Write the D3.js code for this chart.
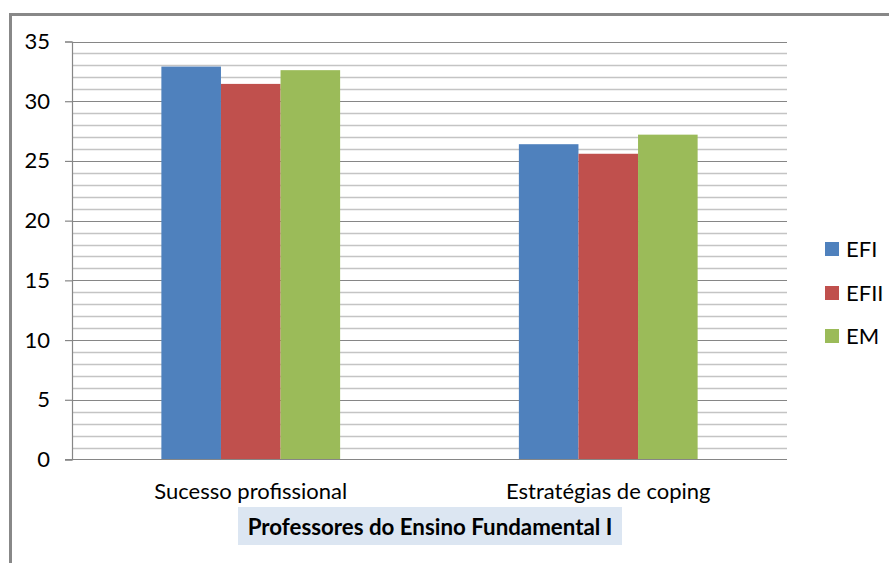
<!DOCTYPE html>
<html><head><meta charset="utf-8">
<script src="https://cdn.jsdelivr.net/npm/d3@7"></script>
<style>
html,body{margin:0;padding:0;background:#fff;}
svg{display:block;font-family:Lato,"Open Sans",sans-serif;}
</style></head>
<body>
<svg id="chart" width="889" height="563"></svg>
<script>
const categories = ["Sucesso profissional", "Estratégias de coping"];
const seriesNames = ["EFI", "EFII", "EM"];
const EFI = [32.9, 26.4];
const EFII = [31.45, 25.6];
const EM = [32.6, 27.2];
const seriesValues = [EFI, EFII, EM];
const colors = ["#4f81bd", "#c0504d", "#9bbb59"];
const yTicks = [0, 5, 10, 15, 20, 25, 30, 35];
const title = "Professores do Ensino Fundamental I";

const svg = d3.select("#chart");

// outer frame
svg.append("rect").attr("x", 10.5).attr("y", 14.5).attr("width", 900).attr("height", 600)
  .attr("fill", "#fff").attr("stroke", "#888").attr("stroke-width", 3);

const pLeft = 72, pRight = 787, pTop = 41.5, pBottom = 459.5;
const y = d3.scaleLinear().domain([0, 35]).range([pBottom, pTop]);
const x0 = d3.scaleBand().domain(categories).range([pLeft, pRight]).paddingInner(0.5).paddingOuter(0.25);
const x1 = d3.scaleBand().domain(seriesNames).range([0, x0.bandwidth()]);

// minor gridlines
const minor = d3.range(1, 35).filter(v => v % 5 !== 0);
svg.append("g").selectAll("line").data(minor).join("line")
  .attr("x1", pLeft).attr("x2", pRight)
  .attr("y1", d => Math.round(y(d)) + 0.5).attr("y2", d => Math.round(y(d)) + 0.5)
  .attr("stroke", "#c4c4c4").attr("stroke-width", 1.3);
// major gridlines
svg.append("g").selectAll("line").data(yTicks.filter(v => v > 0)).join("line")
  .attr("x1", pLeft).attr("x2", pRight)
  .attr("y1", d => Math.round(y(d)) + 0.5).attr("y2", d => Math.round(y(d)) + 0.5)
  .attr("stroke", "#868686").attr("stroke-width", 1.2);

// bars
const groups = svg.append("g").selectAll("g").data(categories).join("g")
  .attr("transform", c => `translate(${x0(c)},0)`);
groups.selectAll("rect").data((c, i) => seriesNames.map((s, j) => ({s, v: seriesValues[j][i], j})))
  .join("rect")
  .attr("x", d => x1(d.s)).attr("width", x1.bandwidth())
  .attr("y", d => y(d.v)).attr("height", d => y(0) - y(d.v))
  .attr("fill", d => colors[d.j]);

// y axis
const yAxis = d3.axisLeft(y).tickValues(yTicks).tickSize(7).tickPadding(15).tickFormat(d3.format("d"));
const ya = svg.append("g").attr("transform", `translate(${pLeft},0)`).call(yAxis);
ya.select(".domain").attr("stroke", "#868686").attr("stroke-width", 1.2);
ya.selectAll(".tick line").attr("stroke", "#868686").attr("stroke-width", 1.2);
ya.selectAll(".tick text").attr("font-size", 22).attr("fill", "#000").attr("font-family", "Lato");

// x axis
const xAxis = d3.axisBottom(x0).tickSize(0).tickPadding(0);
const xa = svg.append("g").attr("transform", `translate(0,${pBottom})`).call(xAxis);
xa.select(".domain").attr("d", `M${pLeft - 7},0H${pRight}`).attr("stroke", "#868686").attr("stroke-width", 1.2);
xa.selectAll(".tick text").attr("font-size", 22).attr("fill", "#000").attr("font-family", "Lato")
  .attr("dy", null).attr("y", 39);

// title box
svg.append("rect").attr("x", 238).attr("y", 507).attr("width", 384).attr("height", 38).attr("fill", "#dce6f2");
svg.append("text").attr("x", 430).attr("y", 535).attr("text-anchor", "middle")
  .attr("font-size", 22.3).attr("font-weight", "bold").attr("fill", "#000").text(title);

// legend
const legend = svg.append("g").selectAll("g").data(seriesNames).join("g")
  .attr("transform", (d, i) => `translate(825,${[242, 286, 329][i]})`);
legend.append("rect").attr("width", 14).attr("height", 14).attr("fill", (d, i) => colors[i]);
legend.append("text").attr("x", 21).attr("y", 15).attr("font-size", 22).attr("fill", "#000").text(d => d);
</script>
</body></html>
